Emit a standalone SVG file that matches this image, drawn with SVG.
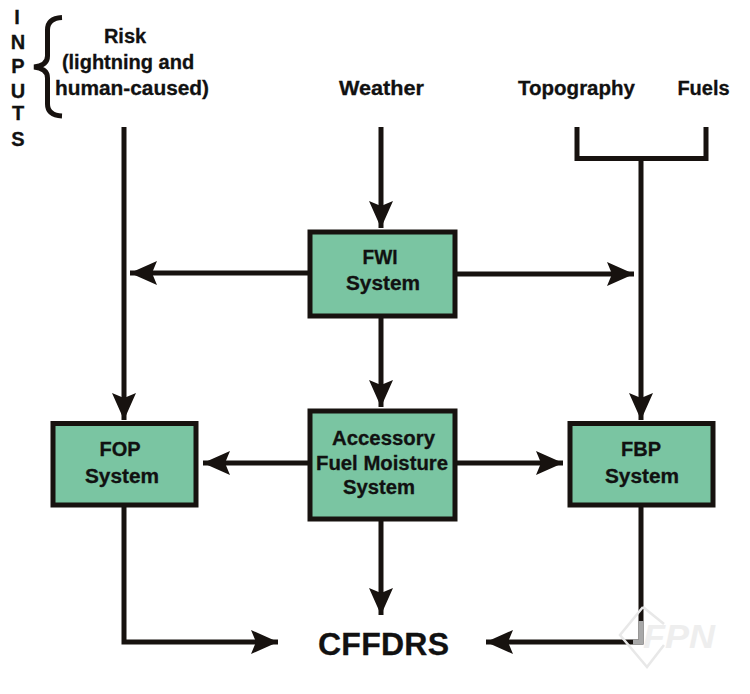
<svg xmlns="http://www.w3.org/2000/svg" width="750" height="694" viewBox="0 0 750 694">
<style>
text{font-family:"Liberation Sans",Arial,sans-serif;font-weight:bold;font-size:20px;fill:#111;text-anchor:middle;stroke:#111;stroke-width:.3}
.box{fill:#7ac5a2;stroke:#17120f;stroke-width:5}
.ln{fill:none;stroke:#17120f;stroke-width:5}
</style>
<defs>
<marker id="a" markerUnits="userSpaceOnUse" markerWidth="30" markerHeight="30" refX="27" refY="15" orient="auto"><path d="M0 3L27 15L0 27L5 15Z" fill="#17120f"/></marker>
</defs>
<rect width="750" height="694" fill="#fff"/>
<g id="connectors">
<path class="ln" d="M124 127V420" marker-end="url(#a)"/>
<path class="ln" d="M381 127V228" marker-end="url(#a)"/>
<path class="ln" d="M577 127V158.500H706V127"/>
<path class="ln" d="M641 158V420" marker-end="url(#a)"/>
<path class="ln" d="M308 273H130" marker-end="url(#a)"/>
<path class="ln" d="M456 274H634" marker-end="url(#a)"/>
<path class="ln" d="M381 316V407" marker-end="url(#a)"/>
<path class="ln" d="M308 463H203" marker-end="url(#a)"/>
<path class="ln" d="M456 463H563" marker-end="url(#a)"/>
<path class="ln" d="M381 520V615" marker-end="url(#a)"/>
<path class="ln" d="M124 505V642H278" marker-end="url(#a)"/>
<path class="ln" d="M641 505V642H486" marker-end="url(#a)"/>
</g>
<g id="inputs-label">
<text x="17" y="24">I</text>
<text x="18" y="49">N</text>
<text x="18" y="73">P</text>
<text x="18" y="98">U</text>
<text x="18" y="120">T</text>
<text x="18" y="146">S</text>
</g>
<g id="brace"><path d="M62 17.500C52 18 47.500 22 47.500 30V56C47.500 62 44 66 34 67C44 68 47.500 72 47.500 78V104C47.500 111 52 115.500 62 116" fill="none" stroke="#17120f" stroke-width="5"/></g>
<g id="risk">
<text x="125" y="43">Risk</text>
<text x="128" y="69">(lightning and</text>
<text x="132" y="95" textLength="154" lengthAdjust="spacingAndGlyphs">human-caused)</text>
</g>
<g id="weather"><text x="381.500" y="95" textLength="85" lengthAdjust="spacingAndGlyphs">Weather</text></g>
<g id="topography"><text x="576.500" y="95" textLength="117" lengthAdjust="spacingAndGlyphs">Topography</text></g>
<g id="fuels"><text x="703.500" y="95">Fuels</text></g>
<g id="fwi">
<rect class="box" x="310" y="232" width="145" height="84"/>
<text x="380" y="264" textLength="35" lengthAdjust="spacingAndGlyphs">FWI</text>
<text x="383" y="290" textLength="74" lengthAdjust="spacingAndGlyphs">System</text>
</g>
<g id="fop">
<rect class="box" x="53" y="423.500" width="143" height="81.500"/>
<text x="120" y="456">FOP</text>
<text x="122" y="483" textLength="74" lengthAdjust="spacingAndGlyphs">System</text>
</g>
<g id="afms">
<rect class="box" x="310" y="411" width="145" height="108"/>
<text x="383.500" y="445" textLength="103" lengthAdjust="spacingAndGlyphs">Accessory</text>
<text x="382" y="470" textLength="132" lengthAdjust="spacingAndGlyphs">Fuel Moisture</text>
<text x="379" y="494" textLength="72" lengthAdjust="spacingAndGlyphs">System</text>
</g>
<g id="fbp">
<rect class="box" x="570" y="423.500" width="143" height="81.500"/>
<text x="641" y="456">FBP</text>
<text x="642" y="483" textLength="74" lengthAdjust="spacingAndGlyphs">System</text>
</g>
<g id="cffdrs"><text x="383.500" y="655" textLength="131" lengthAdjust="spacing" style="font-size:32px;stroke-width:.3">CFFDRS</text></g>
<g id="watermark">
<path d="M641 621V642H633" fill="none" stroke="#a8a8a8" stroke-width="5"/>
<path d="M643 607L620 635L647 667L664 645M643 607L664 624" fill="none" stroke="#e8e8e8" stroke-width="2.500"/>
<text x="643" y="648" textLength="72" lengthAdjust="spacingAndGlyphs" style="font-size:34px;font-style:italic;fill:#eeeeee;stroke:none;text-anchor:start">FPN</text>
</g>
</svg>
